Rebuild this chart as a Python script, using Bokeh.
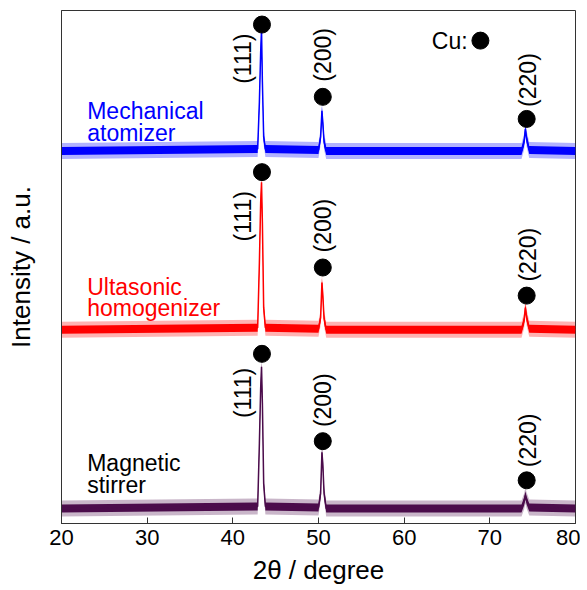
import math
from bokeh.plotting import figure
from bokeh.models import Range1d, FixedTicker
from bokeh.core.properties import value
from bokeh.embed import file_html
from bokeh.resources import INLINE

# 2theta sample points (degree)
two_theta = [20, 42.9, 43.1, 43.25, 43.35, 43.45, 43.6, 43.8,
             50.0, 50.25, 50.4, 50.5, 50.65, 50.9,
             73.7, 74.0, 74.15, 74.3, 74.6, 80]
# intensities (a.u., stacked with offsets as in the figure)
mechanical = [371, 373, 420, 470, 492, 440, 385, 373,
              372, 385, 411, 400, 380, 371,
              371, 380, 393, 383, 372, 371]
ultrasonic = [193, 195, 260, 320, 340, 300, 215, 195,
              194, 205, 240, 228, 204, 193,
              193, 202, 215, 205, 194, 193]
magnetic = [15, 17, 80, 135, 156, 120, 40, 17,
            16, 30, 71, 60, 30, 15,
            15, 22, 28, 23, 16, 15]
noise_core = 4
noise_spikes = 8

series_names = ["Mechanical atomizer", "Ultasonic homogenizer", "Magnetic stirrer"]
series_colors = ["#0000FF", "#FF0000", "#4B0C4B"]

# Cu peak markers (x, y) per series
hkl = ["(111)", "(200)", "(220)"]
marker_x = [43.4, 50.5, 74.3]
marker_y_mech = [497, 425, 403]
marker_y_ultra = [350, 255, 227]
marker_y_mag = [169, 82, 43]
label_x = [41.2, 50.5, 74.4]
label_y_mech = [438, 440, 415]
label_y_ultra = [281, 270, 241]
label_y_mag = [105, 96, 56]

x_ticks = [20, 30, 40, 50, 60, 70, 80]

FONT = "Liberation Sans"

p = figure(width=580, height=590, output_backend="svg", toolbar_location=None,
           x_range=Range1d(20, 80), y_range=Range1d(0, 511),
           min_border_left=61, min_border_right=5, min_border_top=10, min_border_bottom=67)
p.background_fill_color = "white"
p.border_fill_color = "white"
p.outline_line_color = "#333333"
p.outline_line_width = 1
p.grid.visible = False

p.xaxis.ticker = FixedTicker(ticks=x_ticks)
p.xaxis.minor_tick_line_color = None
p.xaxis.major_tick_in = 6
p.xaxis.major_tick_out = 0
p.xaxis.axis_line_color = "#333333"
p.xaxis.major_tick_line_color = "#333333"
p.xaxis.major_label_text_font = FONT
p.xaxis.major_label_text_font_size = "22px"
p.xaxis.major_label_text_color = "black"
p.xaxis.major_label_standoff = 6
p.xaxis.axis_label = "2θ / degree"
p.xaxis.axis_label_text_font = FONT
p.xaxis.axis_label_text_font_size = "26px"
p.xaxis.axis_label_text_font_style = "normal"
p.xaxis.axis_label_text_color = "black"
p.xaxis.axis_label_standoff = 7

p.yaxis.ticker = FixedTicker(ticks=[])
p.yaxis.minor_tick_line_color = None
p.yaxis.major_tick_line_color = None
p.yaxis.axis_line_color = "#333333"
p.yaxis.axis_label = "Intensity / a.u."
p.yaxis.axis_label_text_font = FONT
p.yaxis.axis_label_text_font_size = "26px"
p.yaxis.axis_label_text_font_style = "normal"
p.yaxis.axis_label_text_color = "black"
p.yaxis.axis_label_standoff = 26

for ys, col in zip([mechanical, ultrasonic, magnetic], series_colors):
    p.varea(x=two_theta, y1=[v - noise_spikes for v in ys], y2=[v + noise_spikes for v in ys],
            fill_color=col, fill_alpha=0.3)
    p.varea(x=two_theta, y1=[v - noise_core for v in ys], y2=[v + noise_core for v in ys],
            fill_color=col, fill_alpha=1.0)
    p.line(two_theta, ys, line_color=col, line_width=1.5)

for my, ly in [(marker_y_mech, label_y_mech), (marker_y_ultra, label_y_ultra), (marker_y_mag, label_y_mag)]:
    p.scatter(marker_x, my, size=17, color="black", marker="circle")
    p.text(x=label_x, y=ly, text=hkl, angle=math.pi / 2, text_align="left",
           text_baseline="middle", text_font=value(FONT), text_font_size="23px",
           text_color="black")

# Cu legend
p.scatter([68.9], [481], size=17, color="black", marker="circle")
p.text(x=[67.4], y=[481], text=["Cu:"], text_align="right", text_baseline="middle",
       text_font=value(FONT), text_font_size="23px", text_color="black")

# sample names
name_lines = [["Mechanical", "atomizer"], ["Ultasonic", "homogenizer"], ["Magnetic", "stirrer"]]
name_y = [[411, 389], [236, 215], [60, 38]]
name_colors = ["#0000FF", "#FF0000", "black"]
for lines, ys, col in zip(name_lines, name_y, name_colors):
    p.text(x=[23.0, 23.0], y=ys, text=lines, text_align="left", text_baseline="alphabetic",
           text_font=value(FONT), text_font_size="23px", text_color=col)

open("out.html", "w").write(file_html(p, INLINE))
